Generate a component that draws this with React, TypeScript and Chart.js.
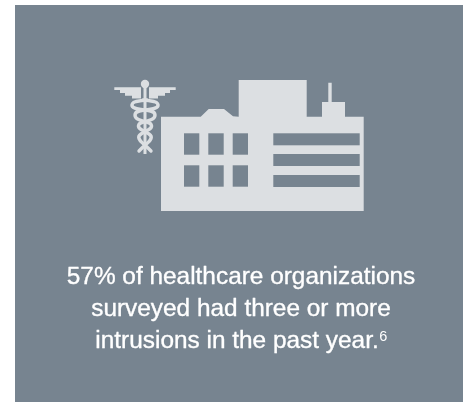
import React, { useEffect, useRef } from "react";
import { Chart, registerables } from "chart.js";

Chart.register(...registerables);

const captionLines = [
  "57% of healthcare organizations",
  "surveyed had three or more",
  "intrusions in the past year.",
];
const footnoteMark = "6";

type Pt = [number, number];

const PANEL = "#778490";
const ICON = "#dcdfe2";

const buildingOutline: Pt[] = [
  [161, 116.7], [200.7, 116.7], [208.7, 109], [224, 109], [233, 116.3], [238.7, 116.7],
  [238.7, 80], [306.7, 80], [306.7, 116.7], [322, 116.7], [322, 102], [328.3, 102],
  [328.3, 82.7], [331.7, 82.7], [331.7, 102], [345, 102], [345, 116.7], [363.7, 116.7],
  [363.7, 211], [161, 211],
];
const windowRects = [
  [184, 133.3, 199.3, 154.7], [208.3, 133.3, 223.7, 154.7], [232.7, 133.3, 248, 154.7],
  [184, 165.3, 199.3, 186.7], [208.3, 165.3, 223.7, 186.7], [232.7, 165.3, 248, 186.7],
  [273.3, 133.3, 359.7, 145.3], [273.3, 154, 359.7, 166], [273.3, 175, 359.7, 187],
];
const leftWing: Pt[] = [
  [114.3, 87.3], [141, 87.3], [141, 98.5], [132, 98.5], [132, 95.7], [125, 95.7],
  [125, 93], [120, 93], [120, 90], [114.3, 90],
];
const rightWing: Pt[] = [
  [175.7, 87.3], [149, 87.3], [149, 98.5], [158, 98.5], [158, 95.7], [165, 95.7],
  [165, 93], [170, 93], [170, 90], [175.7, 90],
];
const snakeA: Pt[] = [
  [147, 100], [134, 101], [131, 106], [136, 109], [146, 110], [155, 112], [155, 118],
  [148, 121], [139, 123], [138, 128], [146, 132], [152, 136], [150, 141], [145, 145], [139, 151],
];
const snakeB: Pt[] = [
  [143, 100], [156, 101], [159, 106], [154, 109], [144, 110], [135, 112], [135, 118],
  [142, 121], [151, 123], [152, 128], [144, 132], [138, 136], [140, 141], [145, 145], [151, 151],
];

const pictogram = {
  id: "pictogram",
  beforeDatasetsDraw(chart: any) {
    const { ctx, scales } = chart;
    const X = (v: number) => scales.x.getPixelForValue(v);
    const Y = (v: number) => scales.y.getPixelForValue(v);
    const poly = (pts: Pt[]) => {
      ctx.beginPath();
      pts.forEach(([a, b], i) => (i ? ctx.lineTo(X(a), Y(b)) : ctx.moveTo(X(a), Y(b))));
      ctx.closePath();
      ctx.fill();
    };
    const smooth = (pts: Pt[]) => {
      ctx.beginPath();
      ctx.moveTo(X(pts[0][0]), Y(pts[0][1]));
      for (let i = 1; i < pts.length - 1; i++) {
        const mx = (pts[i][0] + pts[i + 1][0]) / 2;
        const my = (pts[i][1] + pts[i + 1][1]) / 2;
        ctx.quadraticCurveTo(X(pts[i][0]), Y(pts[i][1]), X(mx), Y(my));
      }
      const last = pts[pts.length - 1];
      ctx.lineTo(X(last[0]), Y(last[1]));
      ctx.stroke();
    };
    ctx.save();
    ctx.fillStyle = PANEL;
    ctx.fillRect(X(15), Y(5), X(463) - X(15), Y(402) - Y(5));

    ctx.fillStyle = ICON;
    poly(buildingOutline);
    ctx.fillStyle = PANEL;
    windowRects.forEach(([a, b, c, d]) => ctx.fillRect(X(a), Y(b), X(c) - X(a), Y(d) - Y(b)));

    ctx.fillStyle = ICON;
    poly(leftWing);
    poly(rightWing);
    ctx.fillRect(X(143.5), Y(84), X(146.5) - X(143.5), Y(154) - Y(84));
    ctx.beginPath();
    ctx.arc(X(145), Y(84), 4.2, 0, Math.PI * 2);
    ctx.fill();
    ctx.strokeStyle = ICON;
    ctx.lineWidth = 3.4;
    ctx.lineCap = "round";
    smooth(snakeA);
    smooth(snakeB);

    ctx.fillStyle = "#ffffff";
    ctx.strokeStyle = "#ffffff";
    ctx.lineWidth = 0.35;
    ctx.lineJoin = "round";
    ctx.textBaseline = "alphabetic";
    ctx.textAlign = "left";
    const baselines = [284, 316, 348];
    const centre = 241;
    captionLines.forEach((line, i) => {
      ctx.font = "24.4px 'Liberation Sans', Arial, sans-serif";
      const w = ctx.measureText(line).width;
      const extra = i === 2 ? 8 : 0;
      const left = centre - (w + extra) / 2;
      ctx.fillText(line, X(left), Y(baselines[i]));
      ctx.strokeText(line, X(left), Y(baselines[i]));
      if (i === 2) {
        ctx.font = "14.5px 'Liberation Sans', Arial, sans-serif";
        ctx.fillText(footnoteMark, X(left + w + 0.5), Y(baselines[i] - 7));
      }
    });
    ctx.restore();
  },
};

export default function App() {
  const ref = useRef<HTMLCanvasElement>(null);
  useEffect(() => {
    const chart = new Chart(ref.current!, {
      type: "scatter",
      data: { datasets: [] },
      plugins: [pictogram],
      options: {
        animation: false,
        responsive: false,
        layout: { padding: 0 },
        plugins: { legend: { display: false }, tooltip: { enabled: false } },
        scales: {
          x: { type: "linear", display: false, min: 0, max: 468 },
          y: { type: "linear", display: false, min: 0, max: 402, reverse: true },
        },
      },
    });
    return () => chart.destroy();
  }, []);
  return (
    <canvas
      ref={ref}
      width={468}
      height={402}
      style={{ position: "fixed", left: 0, top: 0, display: "block" }}
    />
  );
}
